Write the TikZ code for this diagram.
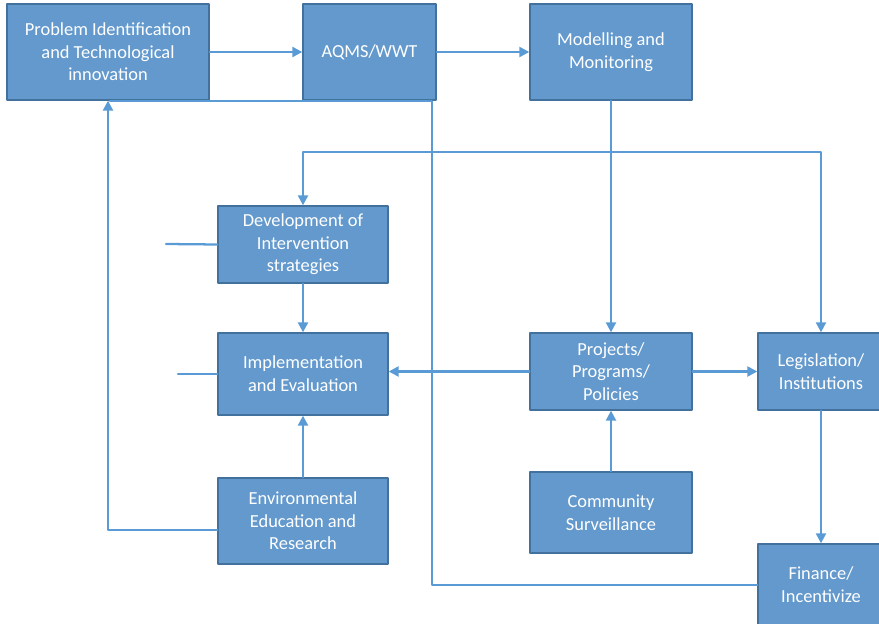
\documentclass[tikz,border=0pt]{standalone}
\usepackage{fontspec}
\setmainfont{Carlito}
\usepackage{tikz}
\usetikzlibrary{arrows.meta}
\definecolor{boxfill}{HTML}{6399CD}
\definecolor{boxline}{HTML}{41719C}
\definecolor{linkblue}{HTML}{5B9BD5}

\begin{document}
\begin{tikzpicture}[x=0.75pt, y=-0.75pt, line cap=round, line join=round,
  box/.style={draw=boxline, line width=1pt, fill=boxfill, text=white, align=center,
    inner sep=2pt, font=\fontsize{13.8}{17}\selectfont},
  link/.style={draw=linkblue, line width=1.7pt},
  arr/.style={link, -{Triangle[length=7.5pt,width=7.5pt]}}]
\useasboundingbox (0,0) rectangle (879,624);
% top row
\node[box, minimum width=151.5pt, minimum height=72pt] (prob) at (108,52) {Problem Identification\\and Technological\\innovation};
\node[box, minimum width=99.75pt, minimum height=72pt] (aqms) at (369.5,52) {AQMS/WWT};
\node[box, minimum width=121.5pt, minimum height=72pt] (model) at (611,52) {Modelling and\\Monitoring};
% left column
\node[box, minimum width=127.5pt, minimum height=57.75pt] (dev) at (303,244.5) {Development of\\Intervention\\strategies};
\node[box, minimum width=127.5pt, minimum height=61.5pt] (impl) at (303,374) {Implementation\\and Evaluation};
\node[box, minimum width=127.5pt, minimum height=64.5pt] (env) at (303,521) {Environmental\\Education and\\Research};
% right part
\node[box, minimum width=121.5pt, minimum height=57.75pt] (proj) at (611,371.5) {Projects/\\Programs/\\Policies};
\node[box, minimum width=94.5pt, minimum height=57.75pt] (legis) at (821,371.5) {Legislation/\\Institutions};
\node[box, minimum width=121.5pt, minimum height=60.75pt] (comm) at (611,512.5) {Community\\Surveillance};
\node[box, minimum width=94.5pt, minimum height=61.5pt] (fin) at (821,585) {Finance/\\Incentivize};
% free ends
\coordinate (bus) at (611,152);
\coordinate (devin) at (166,244);
\coordinate (implin) at (178,374);
\coordinate (ret) at (432,101);
\coordinate (retend) at (110,101);
% connectors
\draw[arr] (prob) -- (aqms);
\draw[arr] (aqms) -- (model);
\draw[arr] (model.south) -- (proj.north);
\draw[arr] (bus) -| (dev.north);
\draw[arr] (bus) -| (legis.north);
\draw[link] (devin) -- (dev.west);
\draw[link] (implin) -- (implin -| impl.west);
\draw[arr] (dev.south) -- (impl.north);
\draw[arr] (env.north) -- (impl.south);
\draw[arr] (proj.west) -- (proj.west -| impl.east);
\draw[arr] (proj.east) -- (legis.west);
\draw[arr] (comm.north) -- (proj.south);
\draw[arr] (legis.south) -- (fin.north);
\draw[arr] ([yshift=-6.75pt]env.west) -| (prob.south);
\draw[link] (fin.west) -| (ret) -- (retend);
\end{tikzpicture}
\end{document}
